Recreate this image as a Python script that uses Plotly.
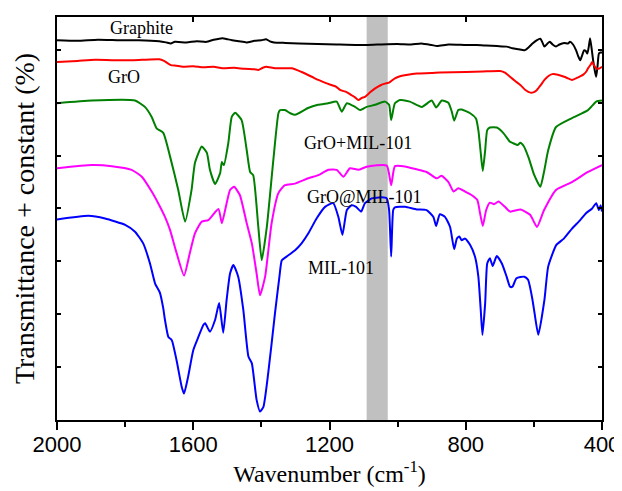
import plotly.graph_objects as go

# ---------------- data ----------------
graphite_wn = [2000,1940,1880,1815,1760,1700,1680,1666,1654,1620,1590,1561,1540,1514,1500,1486,1465,1444,1420,1400,1386,1375,1363,1330,1290,1234,1180,1117,1060,1001,960,931,900,884,850,800,768,740,708,680,663,645,628,615,604,592,581,575,569,560,553,545,535,525,511,500,494,485,476,470,464,458,453,448,443,439,435,430,426,421,417,413,409,404,400]
graphite_y = [7.18,7.17,7.19,7.18,7.18,7.16,7.14,7.12,7.15,7.14,7.16,7.15,7.19,7.22,7.20,7.18,7.16,7.14,7.17,7.18,7.20,7.16,7.14,7.13,7.12,7.11,7.10,7.09,7.10,7.11,7.10,7.12,7.09,7.07,7.10,7.09,7.09,7.08,7.07,7.06,7.03,7.01,6.99,7.05,7.12,7.18,7.21,7.14,7.06,7.12,7.15,7.10,7.06,7.10,7.13,7.12,7.15,7.10,6.99,6.88,6.80,6.90,6.99,6.98,6.93,7.05,7.22,7.00,6.80,6.60,6.49,6.70,6.93,6.95,6.95]

gro_wn = [2000,1940,1888,1800,1750,1700,1686,1666,1650,1631,1600,1570,1540,1514,1480,1450,1420,1409,1396,1386,1360,1311,1282,1252,1233,1210,1193,1180,1169,1150,1135,1125,1115,1105,1096,1080,1066,1050,1037,1025,1008,993,970,944,900,876,800,750,699,685,670,655,639,625,610,600,591,580,569,558,546,530,511,500,488,470,455,447,440,433,429,423,417,410,400]
gro_y = [6.77,6.79,6.81,6.80,6.81,6.82,6.79,6.71,6.70,6.68,6.69,6.67,6.68,6.65,6.66,6.64,6.63,6.62,6.66,6.68,6.65,6.65,6.58,6.49,6.43,6.37,6.33,6.30,6.24,6.20,6.14,6.10,6.05,6.09,6.11,6.20,6.27,6.33,6.36,6.38,6.46,6.50,6.53,6.55,6.56,6.57,6.58,6.59,6.60,6.57,6.49,6.41,6.33,6.24,6.19,6.20,6.24,6.33,6.43,6.50,6.54,6.53,6.49,6.46,6.43,6.48,6.53,6.58,6.66,6.72,6.77,6.70,6.65,6.64,6.68]

mix_wn = [2000,1898,1771,1742,1722,1707,1688,1668,1644,1624,1605,1595,1575,1560,1551,1536,1521,1516,1510,1497,1487,1477,1458,1443,1433,1424,1409,1399,1384,1365,1350,1345,1331,1315,1301,1263,1234,1204,1179,1164,1149,1125,1110,1091,1066,1037,1025,1019,1008,993,964,929,900,887,870,851,841,834,822,812,787,770,763,756,750,743,737,729,709,690,670,663,648,640,630,615,600,581,570,558,535,488,441,417,400]
mix_y = [5.99,6.04,6.04,5.92,5.73,5.51,5.43,4.98,4.35,3.75,4.35,4.86,5.17,5.05,4.73,4.46,4.67,4.88,4.82,5.24,5.73,5.81,5.67,5.10,4.69,4.63,3.65,3.02,3.65,4.91,5.80,5.86,5.86,5.80,5.77,5.90,5.96,5.99,6.02,5.83,5.99,5.92,5.86,5.92,5.96,6.02,5.96,5.67,5.99,6.05,6.02,5.92,6.04,5.91,6.04,6.00,5.83,5.66,5.86,5.87,5.80,5.70,5.48,5.05,4.71,5.10,5.48,5.53,5.53,5.43,5.26,5.24,5.20,5.24,5.18,4.95,4.65,4.41,4.70,5.10,5.54,5.71,5.86,6.02,6.04]

comp_wn = [2000,1898,1839,1781,1751,1722,1703,1683,1668,1649,1627,1610,1595,1575,1556,1526,1516,1502,1492,1480,1463,1443,1428,1414,1404,1389,1370,1350,1331,1301,1262,1233,1203,1179,1159,1140,1115,1091,1032,1019,1008,983,944,915,885,871,851,836,822,802,782,766,758,750,740,729,717,704,685,670,639,611,591,570,535,488,441,400]
comp_y = [4.76,4.82,4.80,4.73,4.60,4.32,4.10,3.84,3.59,3.16,2.73,3.16,3.53,3.75,3.78,3.99,3.72,4.10,4.35,4.41,4.25,3.72,3.34,2.77,2.36,2.71,3.72,4.29,4.44,4.47,4.57,4.63,4.73,4.73,4.60,4.76,4.73,4.79,4.81,4.44,4.80,4.80,4.74,4.69,4.57,4.62,4.50,4.32,4.38,4.32,4.25,4.16,3.91,3.67,3.97,4.11,4.08,4.13,4.03,3.94,3.98,3.88,3.65,3.97,4.35,4.50,4.69,4.82]

mil_wn = [2000,1908,1859,1800,1771,1747,1727,1712,1698,1688,1683,1673,1663,1649,1634,1627,1615,1600,1585,1570,1565,1551,1536,1524,1512,1502,1492,1482,1468,1453,1438,1428,1414,1404,1394,1380,1360,1347,1340,1326,1301,1282,1262,1238,1213,1189,1174,1162,1149,1135,1122,1107,1096,1076,1047,1032,1025,1019,1013,1008,978,944,915,895,887,876,861,846,834,826,819,812,802,787,773,763,756,751,743,737,729,721,709,694,680,670,663,651,628,617,604,598,587,569,558,534,512,488,464,447,429,417,409,404,400]
mil_y = [3.79,3.86,3.81,3.69,3.56,3.34,2.96,2.58,2.41,2.11,1.89,1.57,1.51,1.13,0.63,0.50,0.82,1.32,1.57,1.80,1.83,1.67,1.89,2.21,1.65,2.27,2.77,2.93,2.71,2.08,1.20,1.07,0.38,0.16,0.25,0.88,2.02,2.71,3.02,3.09,3.21,3.34,3.53,3.81,4.03,4.10,3.84,3.50,3.97,4.06,4.03,3.94,4.10,4.19,4.21,4.19,3.97,3.09,3.97,4.02,4.03,3.98,3.97,3.84,3.67,3.89,3.84,3.65,3.23,3.43,3.47,3.40,3.43,3.31,3.09,2.71,2.08,1.61,2.21,2.96,3.06,2.91,3.10,2.96,2.71,2.52,2.52,2.68,2.71,2.65,2.27,2.02,1.61,2.27,2.90,3.31,3.43,3.62,3.78,3.91,4.00,4.10,3.97,4.06,3.94]

series_names = ["Graphite", "GrO", "GrO+MIL-101", "GrO@MIL-101", "MIL-101"]
series_colors = ["#000000", "#FF0000", "#008000", "#FF00FF", "#0000FF"]
series_wn = [graphite_wn, gro_wn, mix_wn, comp_wn, mil_wn]
series_y = [graphite_y, gro_y, mix_y, comp_y, mil_y]

label_wn = [1753, 1803, 1116, 1096, 1166]
label_y = [7.41, 6.48, 5.24, 4.22, 2.87]

band_wn = [1029, 1091]
x_ticks = [2000, 1600, 1200, 800, 400]
y_ticks = [1, 2, 3, 4, 5, 6, 7]

# ---------------- figure ----------------
fig = go.Figure()

for name, col, xs, ys in zip(series_names, series_colors, series_wn, series_y):
    fig.add_trace(go.Scatter(x=xs, y=ys, mode="lines", name=name,
                             line=dict(color=col, width=2, shape="spline", smoothing=0.5),
                             showlegend=False))

# empty trace to carry the top/right mirror axes
fig.add_trace(go.Scatter(x=[], y=[], xaxis="x2", yaxis="y2", showlegend=False))

fig.add_vrect(x0=band_wn[0], x1=band_wn[1], fillcolor="#C0C0C0", opacity=1,
              line_width=0, layer="below")

for name, xv, yv in zip(series_names, label_wn, label_y):
    fig.add_annotation(x=xv, y=yv, text=name, showarrow=False,
                       font=dict(family="Liberation Serif", size=18, color="black"))

# the page body adds an 8 px offset, so the figure is sized/margined to compensate
fig.update_layout(
    width=614, height=483,
    margin=dict(l=49, r=20, t=9, b=71),
    paper_bgcolor="white", plot_bgcolor="white",
    xaxis=dict(range=[2000, 400], tickvals=x_ticks, ticks="outside", ticklen=8,
               tickwidth=1.5, tickcolor="black", automargin=False, ticklabelstandoff=-4,
               ticklabeloverflow="allow",
               minor=dict(dtick=200, tick0=0, ticks="outside", ticklen=5, tickwidth=1.5, tickcolor="black"),
               showline=True, linecolor="black", linewidth=1.5, showgrid=False, zeroline=False,
               tickfont=dict(family="Liberation Sans", size=22, color="black"),
               title=dict(text="Wavenumber (cm<sup>-1</sup>)", standoff=0,
                          font=dict(family="Liberation Serif", size=24, color="black"))),
    yaxis=dict(range=[0, 7.62], tickvals=y_ticks, showticklabels=False, ticks="inside",
               ticklen=4, tickwidth=1.5, tickcolor="black", automargin=False,
               showline=True, linecolor="black", linewidth=1.5, showgrid=False, zeroline=False,
               title=dict(text="Transmittance + constant (%)", standoff=12,
                          font=dict(family="Liberation Serif", size=28, color="black"))),
    xaxis2=dict(range=[2000, 400], overlaying="x", side="top", tickvals=x_ticks,
                showticklabels=False, ticks="inside", ticklen=5, tickwidth=1.5, tickcolor="black",
                showline=True, linecolor="black", linewidth=1.5, showgrid=False, zeroline=False,
                automargin=False),
    yaxis2=dict(range=[0, 7.62], overlaying="y", side="right", tickvals=y_ticks,
                showticklabels=False, ticks="inside", ticklen=4, tickwidth=1.5, tickcolor="black",
                showline=True, linecolor="black", linewidth=1.5, showgrid=False, zeroline=False,
                automargin=False),
)

fig.write_html("out.html")
